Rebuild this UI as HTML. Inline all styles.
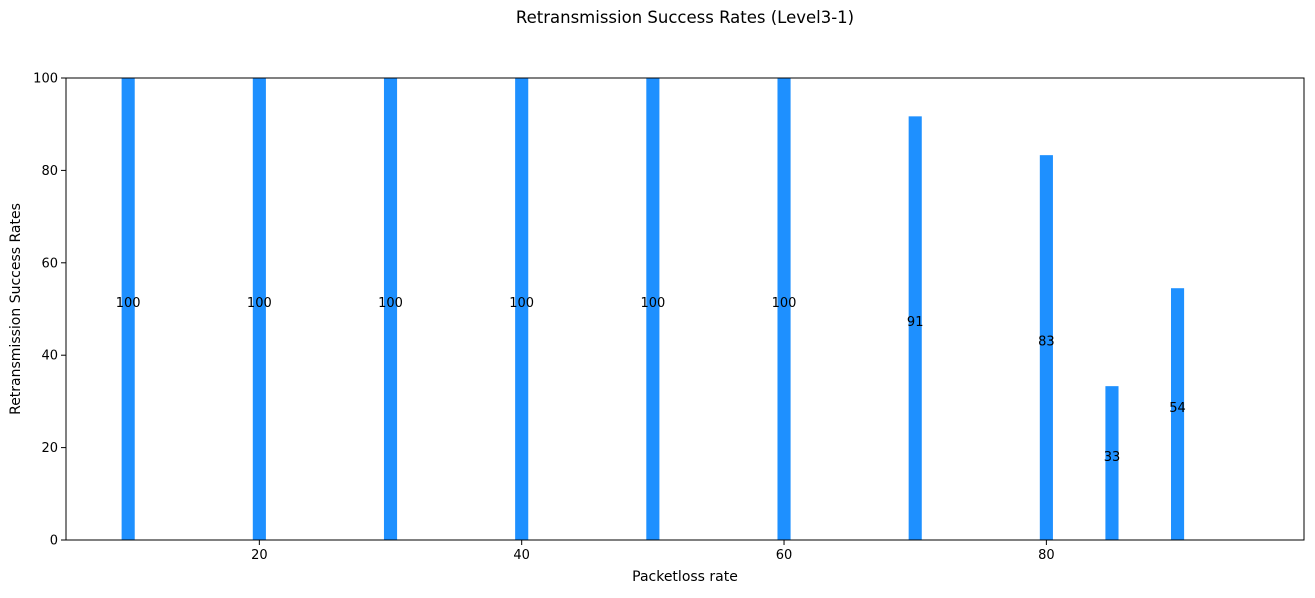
<!DOCTYPE html>
<html><head><meta charset="utf-8"><style>
body{margin:0;background:#fff}
svg text{font-family:"DejaVu Sans","Liberation Sans",sans-serif;fill:#000}
</style></head><body>
<svg id="chart" width="1315" height="593" xmlns="http://www.w3.org/2000/svg">
<text x="685" y="23" font-size="16.5" text-anchor="middle">Retransmission Success Rates (Level3-1)</text>
<g id="bars"></g>
<g id="labels"></g>
<g id="axes"></g>
<text x="685" y="581" font-size="14" text-anchor="middle">Packetloss rate</text>
<text transform="translate(20,309) rotate(-90)" font-size="14" text-anchor="middle">Retransmission Success Rates</text>
</svg>
<script>
const categories = [10,20,30,40,50,60,70,80,85,90];
const values = [100,100,100,100,100,100,91.7,83.3,33.3,54.5];
const xTicks = [20,40,60,80];
const yTicks = [0,20,40,60,80,100];
const L=66,R=1304,T=78,B=540,XMIN=5.26,XMAX=99.64,YMAX=100;
const NS='http://www.w3.org/2000/svg';
const xs=v=>L+(v-XMIN)/(XMAX-XMIN)*(R-L);
const ys=v=>B-v/YMAX*(B-T);
function mk(t,a,p){const e=document.createElementNS(NS,t);for(const k in a)e.setAttribute(k,a[k]);document.getElementById(p).appendChild(e);return e;}
categories.forEach((c,i)=>{
  const v=values[i];
  const r=mk('rect',{x:xs(c-0.5),y:ys(v),width:xs(c+0.5)-xs(c-0.5),height:B-ys(v),fill:'#1e90ff'},'bars');
  
  
  const t=mk('text',{x:xs(c),y:ys(v/2)-2,'font-size':13,'text-anchor':'middle'},'labels');
  t.textContent=Math.floor(v);
  
  
});
const fr=mk('rect',{x:L,y:T,width:R-L,height:B-T,fill:'none',stroke:'#000','stroke-width':1},'axes');


xTicks.forEach(v=>{
  const l=mk('line',{x1:xs(v),x2:xs(v),y1:B,y2:B+5,stroke:'#000'},'axes');
  
  
  const t=mk('text',{x:xs(v),y:B+19,'font-size':13,'text-anchor':'middle'},'axes');
  t.textContent=v;
  
  
});
yTicks.forEach(v=>{
  const l=mk('line',{x1:L-5,x2:L,y1:ys(v),y2:ys(v),stroke:'#000'},'axes');
  
  
  const t=mk('text',{x:L-8,y:ys(v)+4.5,'font-size':13,'text-anchor':'end'},'axes');
  t.textContent=v;
  
  
});
</script>
</body></html>
